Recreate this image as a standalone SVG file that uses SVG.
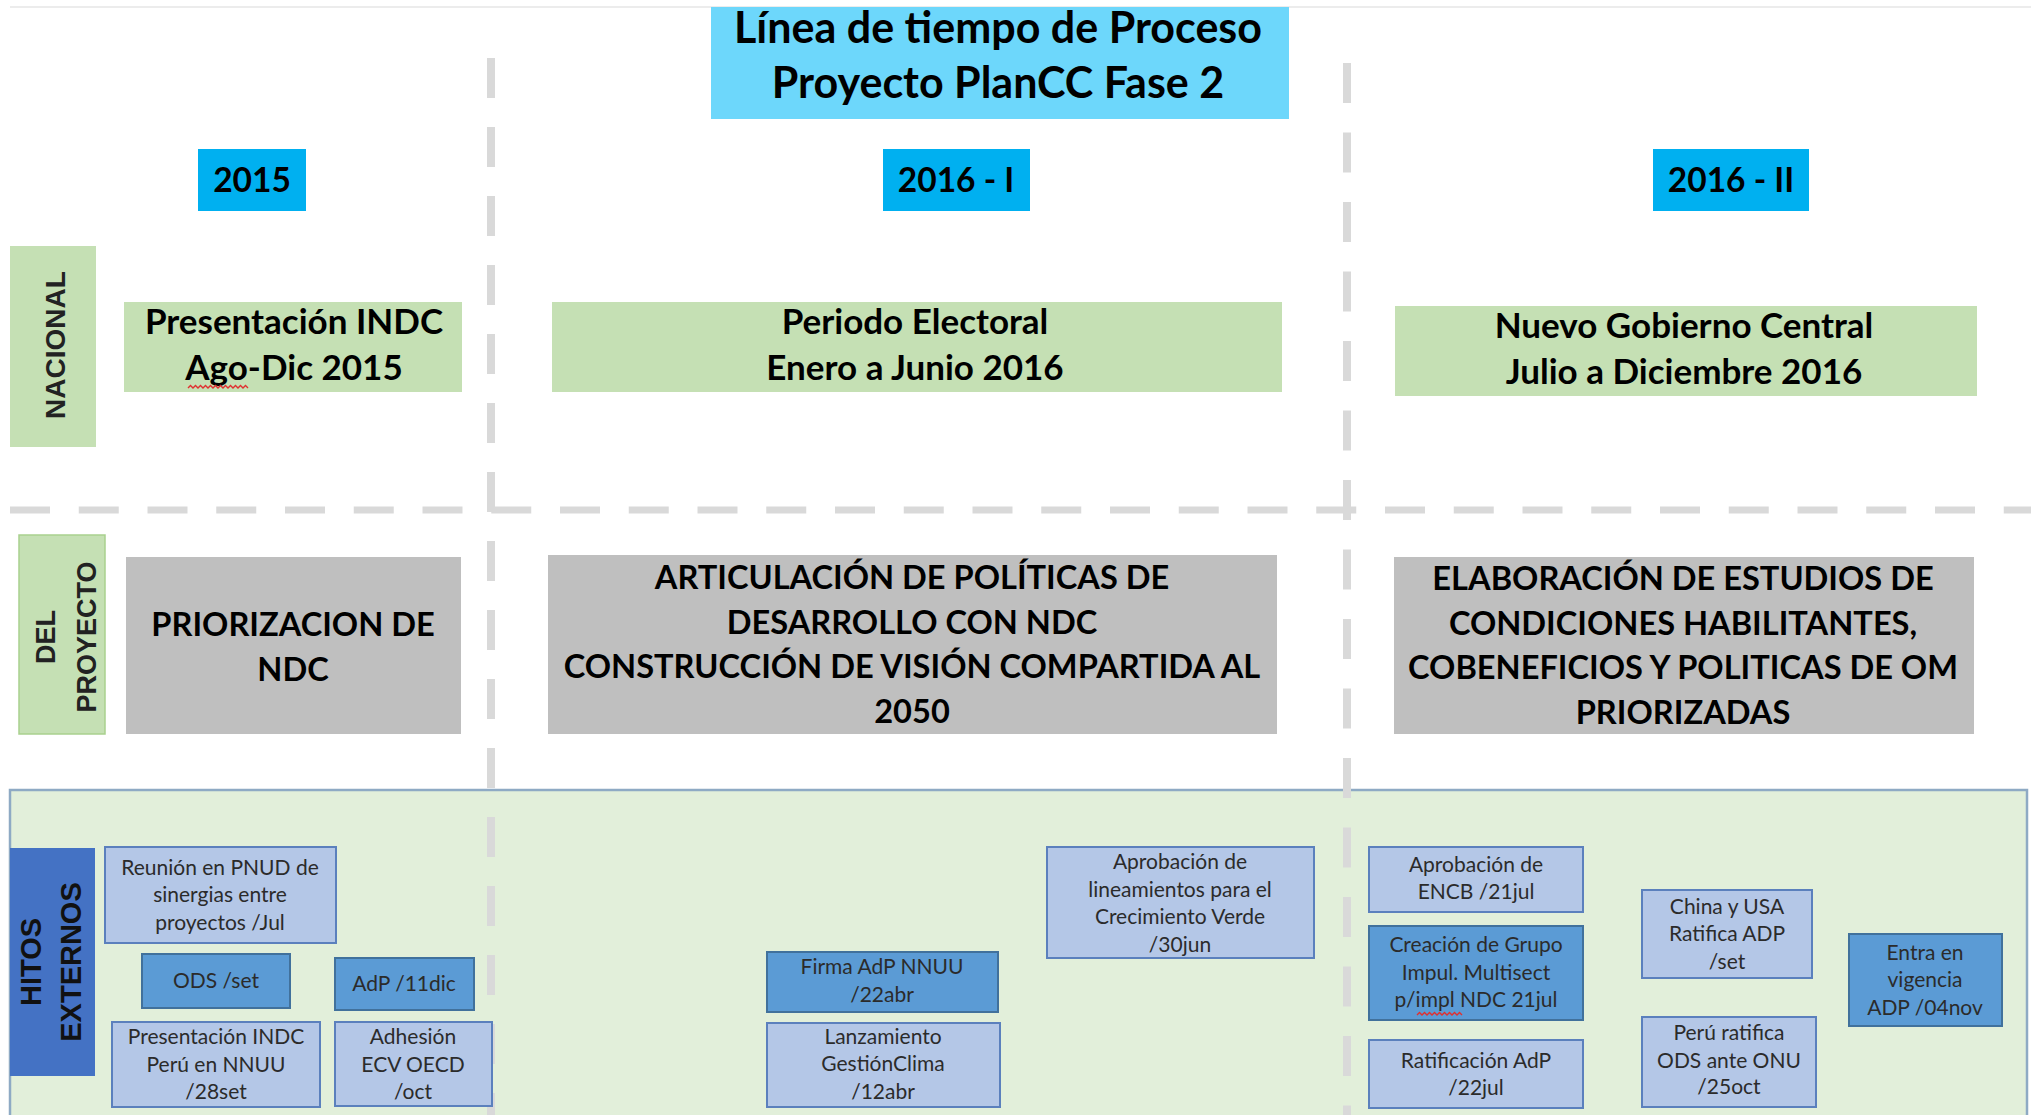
<svg xmlns="http://www.w3.org/2000/svg" width="2031" height="1115" viewBox="0 0 2031 1115">
<style>
  .bg{fill:#ffffff}
  .b-title{fill:#6dd7fb}
  .b-year{fill:#00b0f0}
  .b-green{fill:#c5e0b4}
  .b-gray{fill:#bfbfbf}
  .b-hitos{fill:#e2efda;stroke:#8eaac4;stroke-width:2.5}
  .b-side-blue{fill:#4472c4}
  .b-hito{fill:#b4c7e7;stroke:#5b80bd;stroke-width:2}
  .b-hito-dark{fill:#5b9bd5;stroke:#41719c;stroke-width:2}
  .sep{fill:none;stroke:#d9d9d9;stroke-width:8}
  .sep-h{fill:none;stroke:#d9d9d9;stroke-width:7;stroke-dasharray:40 28.75}
  .squig{fill:none;stroke:#e03030;stroke-width:1.4}
  text{font-family:Lato,"Liberation Sans",sans-serif;text-anchor:middle}
  .t-title{font-weight:700;font-size:43px;fill:#000}
  .t-year{font-weight:700;font-size:33.5px;fill:#000}
  .t-green{font-weight:700;font-size:35px;fill:#000}
  .t-gray{font-weight:700;font-size:32.6px;fill:#000}
  .t-hito{font-size:21px;fill:#2b2b2b}
  .t-side{font-family:"Liberation Sans",Arial,sans-serif;font-weight:700;font-size:28px;fill:#222}
  .t-side2{font-family:"Liberation Sans",Arial,sans-serif;font-weight:700;font-size:27px;fill:#222}
  .t-hitos-side{font-family:"Liberation Sans",Arial,sans-serif;font-weight:700;font-size:29px;fill:#111}
</style>
<rect class="bg" x="0" y="0" width="2031" height="1115"/>
<line x1="10" y1="7" x2="2031" y2="7" stroke="#ececec" stroke-width="2"/>

<g id="hitos-band">
  <rect class="b-hitos" x="10" y="790" width="2017" height="340"/>
</g>

<g id="connectors">
  <line class="sep-h" x1="10" y1="510" x2="2031" y2="510"/>
  <line class="sep" x1="491" y1="58" x2="491" y2="1115" stroke-dasharray="40 29"/>
  <line class="sep" x1="1347" y1="63" x2="1347" y2="1115" stroke-dasharray="40 29.5"/>
</g>

<g id="title">
  <rect class="b-title" x="711" y="7" width="578" height="112"/>
  <text class="t-title" x="998" y="43">Línea de tiempo de Proceso</text>
  <text class="t-title" x="998" y="98">Proyecto PlanCC Fase 2</text>
</g>

<g id="year-2015">
  <rect class="b-year" x="198" y="149" width="108" height="62"/>
  <text class="t-year" x="252" y="192">2015</text>
</g>
<g id="year-2016-I">
  <rect class="b-year" x="883" y="149" width="147" height="62"/>
  <text class="t-year" x="956" y="192">2016 - I</text>
</g>
<g id="year-2016-II">
  <rect class="b-year" x="1653" y="149" width="156" height="62"/>
  <text class="t-year" x="1731" y="192">2016 - II</text>
</g>

<g id="label-nacional">
  <rect class="b-green" x="10" y="246" width="86" height="201"/>
  <text class="t-side" transform="translate(65,345) rotate(-90)">NACIONAL</text>
</g>
<g id="label-del-proyecto">
  <rect class="b-green" x="19" y="535" width="86" height="199" stroke="#a9d18e" stroke-width="1.5"/>
  <text class="t-side2" transform="translate(55,637) rotate(-90)">DEL</text>
  <text class="t-side2" transform="translate(96,637) rotate(-90)">PROYECTO</text>
</g>
<g id="label-hitos">
  <rect class="b-side-blue" x="10" y="848" width="85" height="228"/>
  <text class="t-hitos-side" transform="translate(41,962) rotate(-90)">HITOS</text>
  <text class="t-hitos-side" transform="translate(81,962) rotate(-90)">EXTERNOS</text>
</g>

<g id="nac-2015">
  <rect class="b-green" x="124" y="302" width="338" height="90"/>
  <text class="t-green" x="294" y="334">Presentación INDC</text>
  <text class="t-green" x="294" y="380">Ago-Dic 2015</text>
  <path class="squig" d="M188 388 l2.5 -2.5 l2.5 2.5 l2.5 -2.5 l2.5 2.5 l2.5 -2.5 l2.5 2.5 l2.5 -2.5 l2.5 2.5 l2.5 -2.5 l2.5 2.5 l2.5 -2.5 l2.5 2.5 l2.5 -2.5 l2.5 2.5 l2.5 -2.5 l2.5 2.5 l2.5 -2.5 l2.5 2.5 l2.5 -2.5 l2.5 2.5 l2.5 -2.5 l2.5 2.5 l2.5 -2.5 l2.5 2.5"/>
</g>
<g id="nac-2016-I">
  <rect class="b-green" x="552" y="302" width="730" height="90"/>
  <text class="t-green" x="915" y="334">Periodo Electoral</text>
  <text class="t-green" x="915" y="380">Enero a Junio 2016</text>
</g>
<g id="nac-2016-II">
  <rect class="b-green" x="1395" y="306" width="582" height="90"/>
  <text class="t-green" x="1684" y="338">Nuevo Gobierno Central</text>
  <text class="t-green" x="1684" y="384">Julio a Diciembre 2016</text>
</g>

<g id="proy-2015">
  <rect class="b-gray" x="126" y="557" width="335" height="177"/>
  <text class="t-gray" x="293" y="636">PRIORIZACION DE</text>
  <text class="t-gray" x="293" y="681">NDC</text>
</g>
<g id="proy-2016-I">
  <rect class="b-gray" x="548" y="555" width="729" height="179"/>
  <text class="t-gray" x="912" y="589">ARTICULACIÓN DE POLÍTICAS DE</text>
  <text class="t-gray" x="912" y="634">DESARROLLO CON NDC</text>
  <text class="t-gray" x="912" y="678">CONSTRUCCIÓN DE VISIÓN COMPARTIDA AL</text>
  <text class="t-gray" x="912" y="723">2050</text>
</g>
<g id="proy-2016-II">
  <rect class="b-gray" x="1394" y="557" width="580" height="177"/>
  <text class="t-gray" x="1683" y="590">ELABORACIÓN DE ESTUDIOS DE</text>
  <text class="t-gray" x="1683" y="635">CONDICIONES HABILITANTES,</text>
  <text class="t-gray" x="1683" y="679">COBENEFICIOS Y POLITICAS DE OM</text>
  <text class="t-gray" x="1683" y="724">PRIORIZADAS</text>
</g>

<g id="hito-reunion-pnud">
  <rect class="b-hito" x="105" y="847" width="231" height="96"/>
  <text class="t-hito" x="220" y="875">Reunión en PNUD de</text>
  <text class="t-hito" x="220" y="902">sinergias entre</text>
  <text class="t-hito" x="220" y="930">proyectos /Jul</text>
</g>
<g id="hito-ods-set">
  <rect class="b-hito-dark" x="142" y="954" width="148" height="54"/>
  <text class="t-hito" x="216" y="988">ODS /set</text>
</g>
<g id="hito-adp-11dic">
  <rect class="b-hito-dark" x="335" y="958" width="139" height="52"/>
  <text class="t-hito" x="404" y="991">AdP /11dic</text>
</g>
<g id="hito-presentacion-indc">
  <rect class="b-hito" x="112" y="1022" width="208" height="85"/>
  <text class="t-hito" x="216" y="1044">Presentación INDC</text>
  <text class="t-hito" x="216" y="1072">Perú en NNUU</text>
  <text class="t-hito" x="216" y="1099">/28set</text>
</g>
<g id="hito-adhesion-ecv">
  <rect class="b-hito" x="335" y="1022" width="157" height="84"/>
  <text class="t-hito" x="413" y="1044">Adhesión</text>
  <text class="t-hito" x="413" y="1072">ECV OECD</text>
  <text class="t-hito" x="413" y="1099">/oct</text>
</g>
<g id="hito-firma-adp">
  <rect class="b-hito-dark" x="767" y="952" width="231" height="60"/>
  <text class="t-hito" x="882" y="974">Firma AdP NNUU</text>
  <text class="t-hito" x="882" y="1002">/22abr</text>
</g>
<g id="hito-lanzamiento">
  <rect class="b-hito" x="767" y="1023" width="233" height="84"/>
  <text class="t-hito" x="883" y="1044">Lanzamiento</text>
  <text class="t-hito" x="883" y="1071">GestiónClima</text>
  <text class="t-hito" x="883" y="1099">/12abr</text>
</g>
<g id="hito-crecimiento-verde">
  <rect class="b-hito" x="1047" y="847" width="267" height="111"/>
  <text class="t-hito" x="1180" y="869">Aprobación de</text>
  <text class="t-hito" x="1180" y="897">lineamientos para el</text>
  <text class="t-hito" x="1180" y="924">Crecimiento Verde</text>
  <text class="t-hito" x="1180" y="952">/30jun</text>
</g>
<g id="hito-encb">
  <rect class="b-hito" x="1369" y="847" width="214" height="65"/>
  <text class="t-hito" x="1476" y="872">Aprobación de</text>
  <text class="t-hito" x="1476" y="899">ENCB /21jul</text>
</g>
<g id="hito-grupo-multisect">
  <rect class="b-hito-dark" x="1369" y="926" width="214" height="94"/>
  <text class="t-hito" x="1476" y="952">Creación de Grupo</text>
  <text class="t-hito" x="1476" y="980">Impul. Multisect</text>
  <text class="t-hito" x="1476" y="1007">p/impl NDC 21jul</text>
  <path class="squig" d="M1417 1015 l2.5 -2.5 l2.5 2.5 l2.5 -2.5 l2.5 2.5 l2.5 -2.5 l2.5 2.5 l2.5 -2.5 l2.5 2.5 l2.5 -2.5 l2.5 2.5 l2.5 -2.5 l2.5 2.5 l2.5 -2.5 l2.5 2.5 l2.5 -2.5 l2.5 2.5 l2.5 -2.5 l2.5 2.5"/>
</g>
<g id="hito-ratificacion-adp">
  <rect class="b-hito" x="1369" y="1040" width="214" height="68"/>
  <text class="t-hito" x="1476" y="1068">Ratificación AdP</text>
  <text class="t-hito" x="1476" y="1095">/22jul</text>
</g>
<g id="hito-china-usa">
  <rect class="b-hito" x="1642" y="890" width="170" height="88"/>
  <text class="t-hito" x="1727" y="914">China y USA</text>
  <text class="t-hito" x="1727" y="941">Ratifica ADP</text>
  <text class="t-hito" x="1727" y="969">/set</text>
</g>
<g id="hito-peru-ods">
  <rect class="b-hito" x="1642" y="1017" width="174" height="90"/>
  <text class="t-hito" x="1729" y="1040">Perú ratifica</text>
  <text class="t-hito" x="1729" y="1068">ODS  ante ONU</text>
  <text class="t-hito" x="1729" y="1094">/25oct</text>
</g>
<g id="hito-entra-vigencia">
  <rect class="b-hito-dark" x="1849" y="934" width="153" height="92"/>
  <text class="t-hito" x="1925" y="960">Entra en</text>
  <text class="t-hito" x="1925" y="987">vigencia</text>
  <text class="t-hito" x="1925" y="1015">ADP /04nov</text>
</g>
</svg>
